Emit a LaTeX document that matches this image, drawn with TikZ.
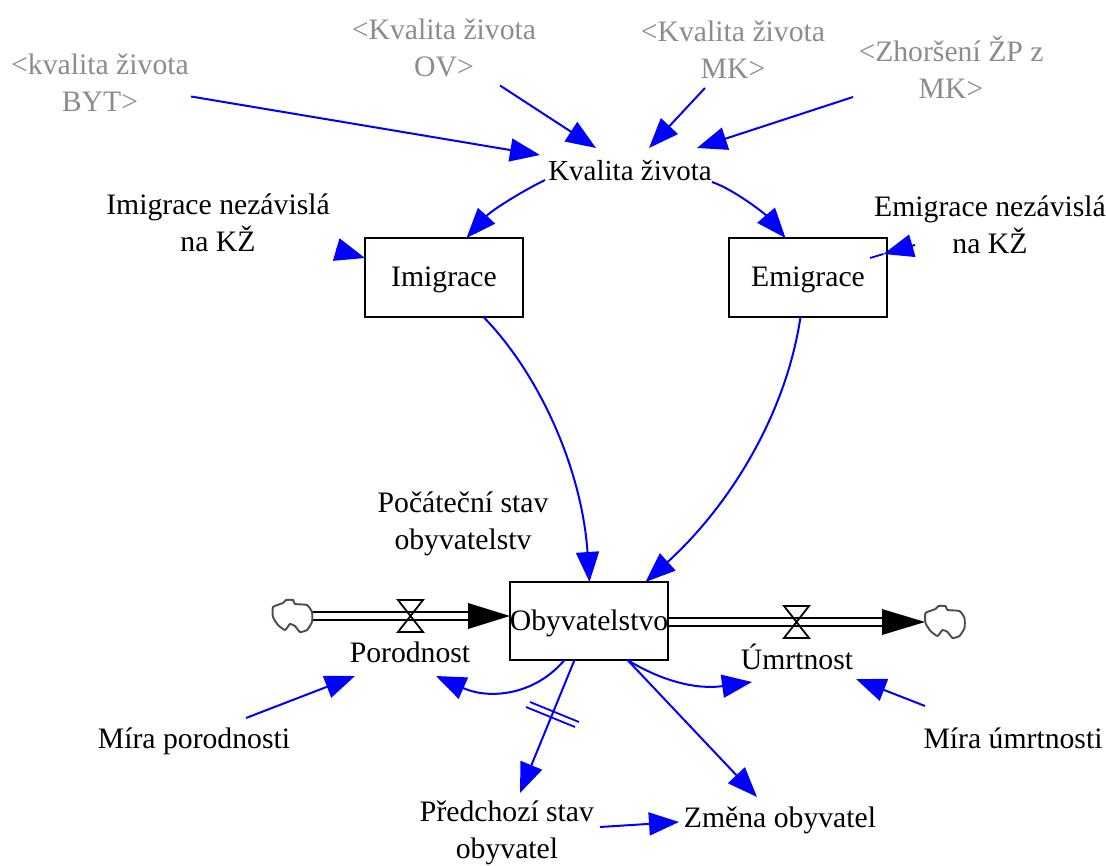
\documentclass[tikz,border=0pt]{standalone}
\usepackage{fontspec}
\setmainfont{Liberation Serif}
\usetikzlibrary{arrows.meta,calc}
\definecolor{linkblue}{RGB}{0,0,255}
\tikzset{
 lab/.style={inner sep=0pt,align=center,font=\fontsize{29.7}{37}\selectfont,text=black},
 ghost/.style={lab,text=black!45},
 stock/.style={draw=black,line width=2pt,minimum width=158pt,minimum height=79pt,inner sep=0pt,font=\fontsize{29.7}{37}\selectfont,text height=20pt,text depth=1pt},
 link/.style={draw=linkblue,line width=2pt,-{Triangle[length=30pt,width=23pt,fill=linkblue]}},
 hatch/.style={draw=linkblue,line width=1.8pt},
 pipe/.style={draw=black,line width=2pt},
 flowhead/.style={fill=black,draw=none},
 valve/.style={draw=black,line width=1.8pt,line join=miter},
 cloudline/.style={draw=black!70,line width=1.9pt,fill=white}
}
\newcommand{\cloudshape}{plot[smooth cycle,tension=0.3] coordinates {(-19,-9) (-9,-13) (-6,-16) (1,-16) (3,-12) (15,-11) (20,-4) (20,6) (15,14) (8,16) (3,10) (-2,8) (-7,14) (-14,9) (-19,1)}}
\begin{document}
\begin{tikzpicture}[x=1pt,y=-1pt]
\useasboundingbox (0,0) rectangle (1106,866);
\node[ghost] (byt) at (100,82.5) {<kvalita života\\BYT>};
\node[ghost] (ov) at (444,48) {<Kvalita života\\OV>};
\node[ghost] (mk) at (733,50) {<Kvalita života\\MK>};
\node[ghost] (zp) at (951,67) {<Zhoršení ŽP z\\MK>};
\node[lab,font=\fontsize{29}{37}\selectfont] (kz) at (630,171) {Kvalita života};
\node[lab] (imn) at (218,222.5) {Imigrace nezávislá\\na KŽ};
\node[lab] (emn) at (990,225) {Emigrace nezávislá\\na KŽ};
\node[stock] (im) at (444,277.5) {Imigrace};
\node[stock] (em) at (808,277.5) {Emigrace};
\node[lab] (poc) at (463,524) {Počáteční stav\\obyvatelstv};
\node[stock,minimum height=78pt] (ob) at (589,621) {Obyvatelstvo};
\node[lab] (por) at (410,652.5) {Porodnost};
\node[lab] (umr) at (797,657) {Úmrtnost};
\node[lab] (mpor) at (194,741.5) {Míra porodnosti};
\node[lab] (mumr) at (1013,738) {Míra úmrtnosti};
\node[lab] (pre) at (507,833) {Předchozí stav\\obyvatel};
\node[lab] (zm) at (780,820) {Změna obyvatel};
% flows
\draw[pipe] (312,612) -- (470,612) (312,620) -- (470,620);
\fill[flowhead] (510,616) -- (468,603) -- (468,629) -- cycle;
\draw[valve] (398,600) -- (423,600) -- (398,632) -- (423,632) -- cycle;
\draw[pipe] (669,618) -- (884,618) (669,626) -- (884,626);
\fill[flowhead] (925,622) -- (882,609) -- (882,635) -- cycle;
\draw[valve] (784,606) -- (809,606) -- (784,638) -- (809,638) -- cycle;
% clouds
\begin{scope}[shift={(292,616)}]\draw[cloudline] \cloudshape;\end{scope}
\begin{scope}[shift={(944.5,622)}]\draw[cloudline] \cloudshape;\end{scope}
% straight links
\draw[link] ([shift={(91,14)}]byt.center) -- ([shift={(-90,-16)}]kz.center);
\draw[link] ([shift={(56,37.5)}]ov.center) -- ([shift={(-34,-23)}]kz.center);
\draw[link] ([shift={(-28,38)}]mk.center) -- ([shift={(19,-23)}]kz.center);
\draw[link] ([shift={(-98,30)}]zp.center) -- ([shift={(67,-23)}]kz.center);
\draw[link] ([shift={(118,27)}]imn.center) -- ([shift={(-79,-19.5)}]im.center);
\draw[link] ([shift={(-75,20)}]emn.center) -- ([shift={(75.5,-23.5)}]em.center);
\draw[hatch] ([shift={(75.5,-23.5)}]em.center) -- ([shift={(-120,33)}]emn.center);
% curved links
\draw[link] ([shift={(-85,9)}]kz.center) .. controls (515,195) and (490,212) .. ([shift={(22.5,-39.5)}]im.center);
\draw[link] ([shift={(82,11)}]kz.center) .. controls (735,190) and (765,214) .. ([shift={(-22.5,-39.5)}]em.center);
\draw[link] ([shift={(39.5,39.5)}]im.center) .. controls (540,375) and (582,470) .. ([shift={(0.5,-39)}]ob.center);
\draw[link] ([shift={(-7.5,39.5)}]em.center) .. controls (785,420) and (725,510) .. ([shift={(56.5,-39)}]ob.center);
\draw[link] ([shift={(-24.5,39)}]ob.center) .. controls (535,695) and (490,700) .. ([shift={(26,23.5)}]por.center);
\draw[link] ([shift={(38.5,39)}]ob.center) .. controls (660,680) and (695,690) .. ([shift={(-45,25)}]umr.center);
% bottom straight links
\draw[link] ([shift={(-14.5,39)}]ob.center) -- ([shift={(13,-40)}]pre.center);
\draw[link] ([shift={(38.5,39)}]ob.center) -- ([shift={(-23,-23)}]zm.center);
\draw[link] ([shift={(93,-6)}]pre.center) -- ([shift={(-101,2)}]zm.center);
\draw[link] ([shift={(52,-23.5)}]mpor.center) -- ([shift={(-55,23.5)}]por.center);
\draw[link] ([shift={(-88,-32)}]mumr.center) -- ([shift={(59,22)}]umr.center);
\draw[hatch] (530,702) -- (579,722) (526,707) -- (575,727);
\end{tikzpicture}
\end{document}
